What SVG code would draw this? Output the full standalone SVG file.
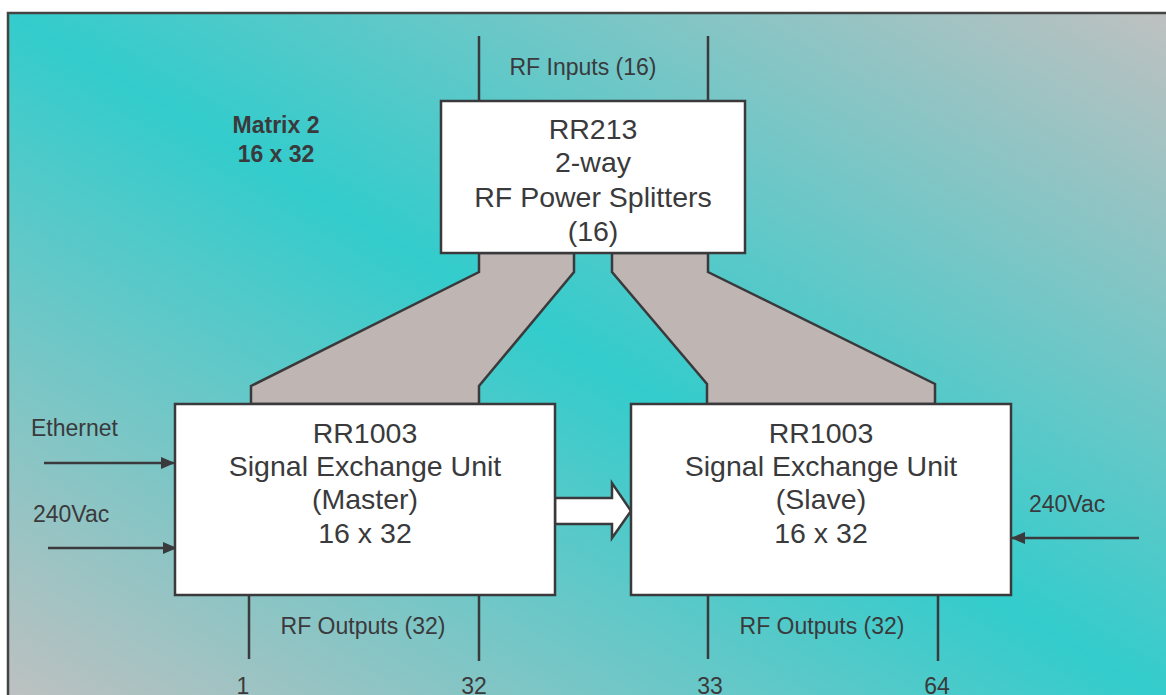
<svg xmlns="http://www.w3.org/2000/svg" width="1166" height="695" viewBox="0 0 1166 695">
<defs>
<linearGradient id="bg" x1="1" y1="0" x2="0" y2="1">
<stop offset="0" stop-color="#C0C0C0"/>
<stop offset="0.5" stop-color="#33CCCC"/>
<stop offset="1" stop-color="#C0C0C0"/>
</linearGradient>
<marker id="ah" viewBox="0 0 14 12" refX="14" refY="6" markerWidth="14" markerHeight="12" markerUnits="userSpaceOnUse" orient="auto">
<path d="M0,0 L14,6 L0,12 Z" fill="#3a3a3c"/>
</marker>
<style>
.ln{stroke:#3a3a3c;stroke-width:2.5;fill:none}
.box{fill:#fff;stroke:#3a3a3c;stroke-width:2.5}
.trap{fill:#BFB6B4;stroke:#3a3a3c;stroke-width:2.5;stroke-linejoin:miter}
.big{font-family:"Liberation Sans",Arial,sans-serif;font-size:28.5px;fill:#3a3a3c;text-anchor:middle}
.sm{font-family:"Liberation Sans",Arial,sans-serif;font-size:23px;fill:#3a3a3c}
.mid{text-anchor:middle}
.bold{font-weight:bold}
</style>
</defs>
<rect x="8" y="13" width="1170" height="695" fill="url(#bg)" stroke="#444" stroke-width="2.5"/>
<g id="connectors">
<polygon class="trap" points="479,253 574,253 574,272 479,386 479,404 251,404 251,386 479,272"/>
<polygon class="trap" points="612,253 708,253 708,272 935,384 935,404 707,404 707,384 612,272"/>
<line class="ln" x1="479" y1="36" x2="479" y2="101"/>
<line class="ln" x1="708" y1="36" x2="708" y2="101"/>
<line class="ln" x1="249" y1="595" x2="249" y2="659"/>
<line class="ln" x1="479" y1="595" x2="479" y2="661"/>
<line class="ln" x1="708" y1="595" x2="708" y2="659"/>
<line class="ln" x1="938" y1="595" x2="938" y2="661"/>
<line class="ln" x1="44" y1="463" x2="175" y2="463" marker-end="url(#ah)"/>
<line class="ln" x1="48" y1="548" x2="177" y2="548" marker-end="url(#ah)"/>
<line class="ln" x1="1139" y1="538" x2="1011" y2="538" marker-end="url(#ah)"/>
<polygon points="555,498 612,498 612,483 631,511 612,538 612,524 555,524" fill="#fff" stroke="#3a3a3c" stroke-width="2.5"/>
</g>
<g id="rr213">
<rect class="box" x="441" y="101" width="304" height="152"/>
<text class="big" x="593" y="139">RR213</text>
<text class="big" x="593" y="172">2-way</text>
<text class="big" x="593" y="207">RF Power Splitters</text>
<text class="big" x="593" y="241">(16)</text>
</g>
<g id="master">
<rect class="box" x="175" y="404" width="380" height="191"/>
<text class="big" x="365" y="443">RR1003</text>
<text class="big" x="365" y="476">Signal Exchange Unit</text>
<text class="big" x="365" y="509">(Master)</text>
<text class="big" x="365" y="543">16 x 32</text>
</g>
<g id="slave">
<rect class="box" x="631" y="404" width="380" height="191"/>
<text class="big" x="821" y="443">RR1003</text>
<text class="big" x="821" y="476">Signal Exchange Unit</text>
<text class="big" x="821" y="509">(Slave)</text>
<text class="big" x="821" y="543">16 x 32</text>
</g>
<g id="labels">
<text class="sm bold mid" x="276" y="133">Matrix 2</text>
<text class="sm bold mid" x="276" y="162">16 x 32</text>
<text class="sm mid" x="583" y="75">RF Inputs (16)</text>
<text class="sm" x="31" y="436">Ethernet</text>
<text class="sm" x="33" y="522">240Vac</text>
<text class="sm" x="1029" y="512">240Vac</text>
<text class="sm mid" x="363" y="634">RF Outputs (32)</text>
<text class="sm mid" x="822" y="634">RF Outputs (32)</text>
<text class="sm mid" x="243" y="694">1</text>
<text class="sm mid" x="474" y="694">32</text>
<text class="sm mid" x="710" y="694">33</text>
<text class="sm mid" x="937" y="694">64</text>
</g>
</svg>
